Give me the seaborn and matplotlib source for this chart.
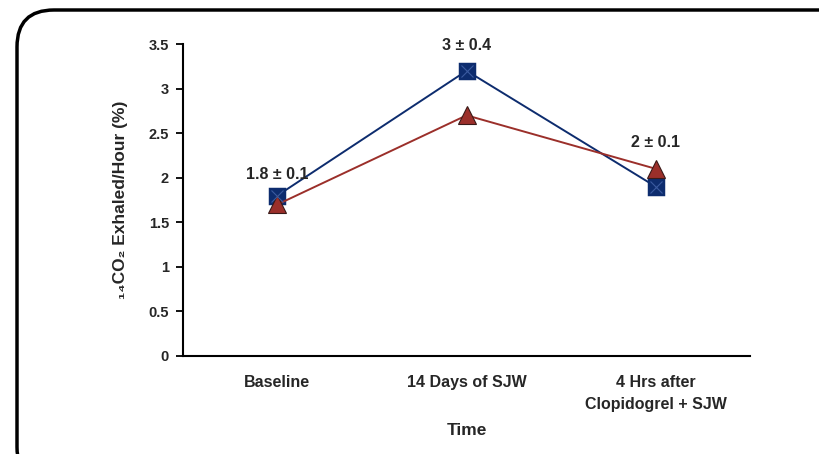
import pandas as pd
import seaborn as sns
import matplotlib.pyplot as plt
from matplotlib.patches import FancyBboxPatch

# data
times = ["Baseline", "14 Days of SJW", "4 Hrs after\nClopidogrel + SJW"]
blue_vals = [1.8, 3.2, 1.9]
red_vals = [1.7, 2.7, 2.1]
notes = ["1.8 \u00b1 0.1", "3 \u00b1 0.4", "2 \u00b1 0.1"]
note_y = [2.04, 3.48, 2.40]

blue = "#0d2c6e"
red = "#9b2f2a"
txt = "#262626"

df = pd.DataFrame({
    "Time": times * 2,
    "value": blue_vals + red_vals,
    "series": ["a"] * 3 + ["b"] * 3,
})

sns.set_style("white")
plt.rcParams["font.family"] = ["Liberation Sans", "DejaVu Sans"]
plt.rcParams["font.weight"] = "bold"

fig = plt.figure(figsize=(8.2, 4.54), dpi=100)
ax = fig.add_axes([0.223, 0.216, 0.692, 0.687])

sns.pointplot(data=df, x="Time", y="value", hue="series", order=times,
              palette=[blue, red], markers=["s", "^"], linestyles=["-", "-"],
              markersize=11, linewidth=1.4, ax=ax, legend=False)
# the little cross inside the blue squares
sns.pointplot(data=df[df.series == "a"], x="Time", y="value", order=times,
              color="#3a5aa0", marker="x", linestyle="none", markersize=9,
              markeredgewidth=0.8, ax=ax, legend=False)
for line in ax.lines:
    if line.get_marker() == "^":
        line.set_markersize(13)
        line.set_markeredgecolor("#3a1a18")
        line.set_markeredgewidth(0.8)
    if line.get_marker() == "s":
        line.set_markeredgecolor(blue)

for i, t in enumerate(notes):
    ax.text(i, note_y[i], t, ha="center", va="center", fontsize=11.5, fontweight="bold",
            color=txt, clip_on=False)

ax.set_ylim(0, 3.5)
ax.set_xlim(-0.5, 2.5)
ax.set_yticks([0, 0.5, 1, 1.5, 2, 2.5, 3, 3.5])
ax.set_yticklabels(["0", "0.5", "1", "1.5", "2", "2.5", "3", "3.5"])
ax.set_xticks([-0.5, 0.5, 1.5, 2.5])
ax.set_xticklabels([])
ax.set_xticks([0, 1, 2], minor=True)
ax.set_xticklabels(times, minor=True, linespacing=1.55)
ax.tick_params(axis="x", which="minor", length=0, pad=14, labelsize=11.5)
ax.tick_params(axis="x", which="major", direction="out", length=5, width=1.3, color="black")
ax.tick_params(axis="y", direction="out", length=5, width=1.3, color="black",
               labelsize=10.5, pad=5, left=True)
for lab in ax.get_xticklabels(minor=True) + ax.get_yticklabels():
    lab.set_fontweight("bold")
    lab.set_color(txt)

sns.despine(ax=ax)
for s in ["left", "bottom"]:
    ax.spines[s].set_color("black")
    ax.spines[s].set_linewidth(1.5)

ax.set_xlabel("Time", fontsize=12.5, fontweight="bold", color=txt, labelpad=8)
ax.set_ylabel("\u2081\u2084CO\u2082 Exhaled/Hour (%)", fontsize=12.5, fontweight="bold",
              color=txt, labelpad=15)

# rounded frame around the whole figure, running off the right and bottom
W, H = 820, 454
frame = FancyBboxPatch((17 / W, -30 / H), 840 / W, 474 / H,
                       boxstyle="round,pad=0,rounding_size=0.045",
                       transform=fig.transFigure, fill=False, edgecolor="black",
                       linewidth=2.5, mutation_aspect=W / H)
fig.patches.append(frame)

fig.savefig("out.png", dpi=100)
